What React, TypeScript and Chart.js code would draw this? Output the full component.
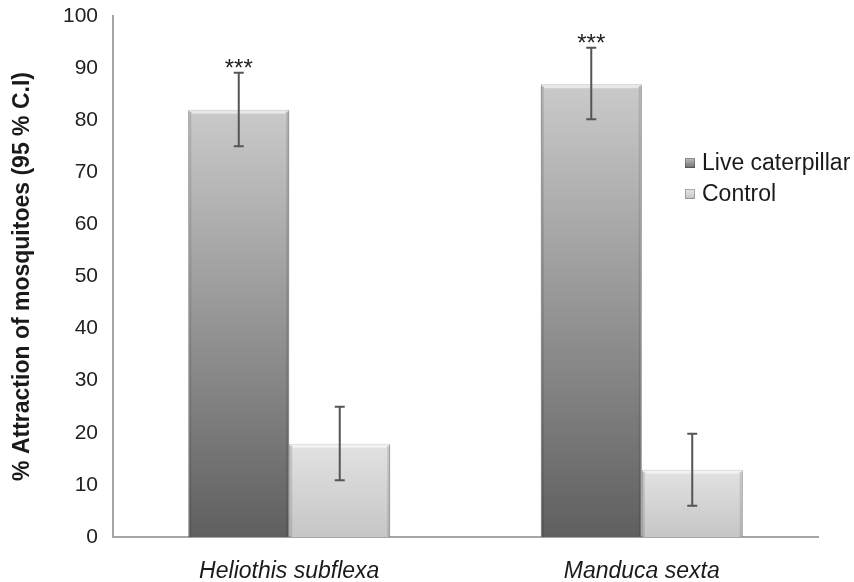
import { useEffect, useRef } from "react";
import { Chart, registerables } from "chart.js";

Chart.register(...registerables);

const categories = ["Heliothis subflexa", "Manduca sexta"];
const seriesNames = ["Live caterpillar", "Control"];
const liveValues = [82.0, 86.9];
const liveLow = [75.0, 80.2];
const liveHigh = [89.1, 93.9];
const controlValues = [17.9, 12.9];
const controlLow = [10.9, 6.0];
const controlHigh = [25.0, 19.8];
const significance = ["***", "***"];
const yTickValues = [0, 10, 20, 30, 40, 50, 60, 70, 80, 90, 100];
const yTitle = "% Attraction of mosquitoes (95 % C.I)";

const errLows = [liveLow, controlLow];
const errHighs = [liveHigh, controlHigh];

const FONT = "'Liberation Sans', Arial, sans-serif";

function barGradient(top: string, bottom: string) {
  return (ctx: any) => {
    const chart = ctx.chart;
    if (!chart.chartArea || ctx.raw == null) return bottom;
    const y = chart.scales.y;
    const yTop = y.getPixelForValue(ctx.raw as number);
    const yBase = y.getPixelForValue(0);
    const g = chart.ctx.createLinearGradient(0, yTop, 0, yBase);
    g.addColorStop(0, top);
    g.addColorStop(1, bottom);
    return g;
  };
}

const bevelPlugin = {
  id: "bevel",
  afterDatasetsDraw(chart: any) {
    const ctx = chart.ctx;
    ctx.save();
    chart.data.datasets.forEach((_: any, di: number) => {
      const meta = chart.getDatasetMeta(di);
      meta.data.forEach((bar: any) => {
        const { x, y, width, base } = bar.getProps(["x", "y", "width", "base"], true);
        const l = x - width / 2;
        const r = x + width / 2;
        ctx.fillStyle = "rgba(255,255,255,0.55)";
        ctx.beginPath();
        ctx.moveTo(l, y);
        ctx.lineTo(r, y);
        ctx.lineTo(r - 4, y + 4);
        ctx.lineTo(l + 4, y + 4);
        ctx.closePath();
        ctx.fill();
        ctx.fillStyle = "rgba(0,0,0,0.12)";
        ctx.fillRect(l, y + 2, 3, base - y - 2);
        ctx.fillRect(r - 3, y + 2, 3, base - y - 2);
      });
    });
    ctx.restore();
  },
};

const errorBarPlugin = {
  id: "errorBars",
  afterDatasetsDraw(chart: any) {
    const ctx = chart.ctx;
    const yScale = chart.scales.y;
    ctx.save();
    ctx.strokeStyle = "#555555";
    ctx.lineWidth = 2;
    chart.data.datasets.forEach((_: any, di: number) => {
      const meta = chart.getDatasetMeta(di);
      meta.data.forEach((bar: any, i: number) => {
        const x = bar.x;
        const yl = yScale.getPixelForValue(errLows[di][i]);
        const yh = yScale.getPixelForValue(errHighs[di][i]);
        ctx.beginPath();
        ctx.moveTo(x, yl);
        ctx.lineTo(x, yh);
        ctx.moveTo(x - 5, yl);
        ctx.lineTo(x + 5, yl);
        ctx.moveTo(x - 5, yh);
        ctx.lineTo(x + 5, yh);
        ctx.stroke();
      });
    });
    const meta0 = chart.getDatasetMeta(0);
    ctx.fillStyle = "#222222";
    ctx.font = `24px ${FONT}`;
    ctx.textAlign = "center";
    ctx.textBaseline = "alphabetic";
    meta0.data.forEach((bar: any, i: number) => {
      const yh = yScale.getPixelForValue(liveHigh[i]);
      ctx.fillText(significance[i], bar.x, yh + 3);
    });
    ctx.restore();
  },
};

const legendPlugin = {
  id: "customLegend",
  afterDraw(chart: any) {
    const ctx = chart.ctx;
    const swatches = [
      ["#c0c0c0", "#707070"],
      ["#e6e6e6", "#c4c4c4"],
    ];
    const ys = [163, 194];
    ctx.save();
    ctx.font = `23px ${FONT}`;
    ctx.textBaseline = "middle";
    ctx.textAlign = "left";
    seriesNames.forEach((name, i) => {
      const y = ys[i];
      const g = ctx.createLinearGradient(0, y - 5, 0, y + 5);
      g.addColorStop(0, swatches[i][0]);
      g.addColorStop(1, swatches[i][1]);
      ctx.fillStyle = g;
      ctx.fillRect(685, y - 5, 10, 10);
      ctx.strokeStyle = "rgba(0,0,0,0.25)";
      ctx.lineWidth = 1;
      ctx.strokeRect(685.5, y - 4.5, 9, 9);
      ctx.fillStyle = "#1a1a1a";
      ctx.fillText(name, 702, y + 1);
    });
    ctx.restore();
  },
};

export default function App() {
  const ref = useRef<HTMLCanvasElement | null>(null);

  useEffect(() => {
    if (!ref.current) return;
    const chart = new Chart(ref.current, {
      type: "bar",
      data: {
        labels: categories,
        datasets: [
          {
            label: seriesNames[0],
            data: liveValues,
            backgroundColor: barGradient("#cacaca", "#5f5f5f"),
            borderColor: "#8a8a8a",
            borderWidth: 1,
            barPercentage: 1,
            categoryPercentage: 0.573,
          },
          {
            label: seriesNames[1],
            data: controlValues,
            backgroundColor: barGradient("#e2e2e2", "#c6c6c6"),
            borderColor: "#9a9a9a",
            borderWidth: 1,
            barPercentage: 1,
            categoryPercentage: 0.573,
          },
        ],
      },
      options: {
        responsive: false,
        animation: false,
        layout: { padding: { left: 0, right: 36, top: 16, bottom: 0 } },
        plugins: {
          legend: { display: false },
          tooltip: { enabled: false },
        },
        scales: {
          x: {
            grid: { display: false },
            border: { display: true, color: "#a6a6a6", width: 2 },
            ticks: {
              color: "#1a1a1a",
              font: { family: FONT, size: 23, style: "italic" },
              padding: 13,
            },
            afterFit: (s: any) => {
              s.height = 45;
              s.paddingLeft = 0;
              s.paddingRight = 0;
            },
          },
          y: {
            min: 0,
            max: 100,
            afterBuildTicks: (s: any) => {
              s.ticks = yTickValues.map((v) => ({ value: v }));
            },
            grid: { display: false, drawTicks: false },
            border: { display: true, color: "#a6a6a6", width: 2 },
            ticks: {
              color: "#222222",
              font: { family: FONT, size: 21 },
              padding: 15,
            },
            title: {
              display: true,
              text: yTitle,
              color: "#1a1a1a",
              font: { family: FONT, size: 23, weight: "bold" },
              padding: { top: 9, bottom: 0 },
            },
            afterFit: (s: any) => {
              s.width = 113;
              s.paddingTop = 0;
              s.paddingBottom = 0;
            },
          },
        },
      },
      plugins: [bevelPlugin, errorBarPlugin, legendPlugin],
    });
    return () => chart.destroy();
  }, []);

  return (
    <div style={{ position: "fixed", left: 0, top: 0, width: 854, height: 582, background: "#fff" }}>
      <canvas ref={ref} width={854} height={582} />
    </div>
  );
}
